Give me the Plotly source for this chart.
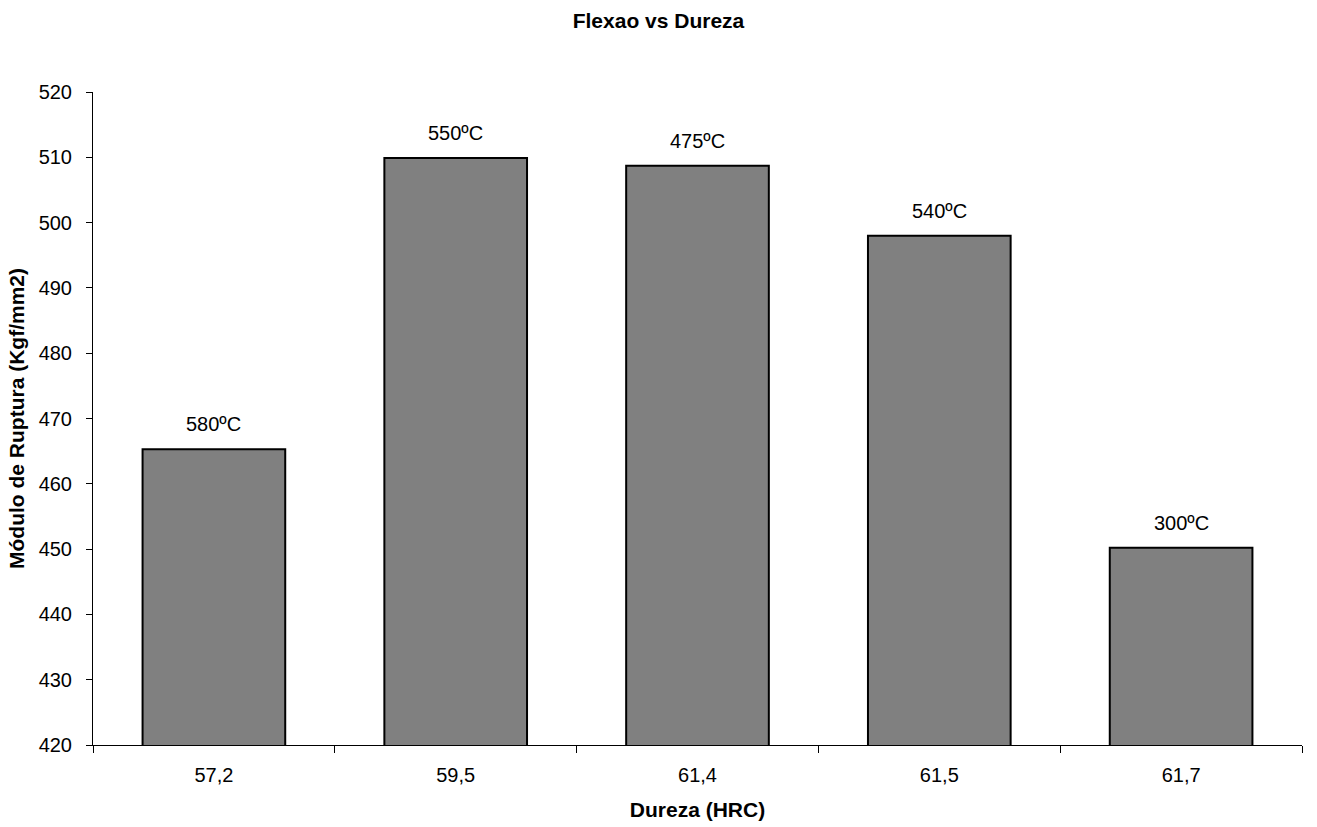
import plotly.graph_objects as go

# Hardness (HRC) categories, flexural strength values and tempering temperatures
dureza = ["57,2", "59,5", "61,4", "61,5", "61,7"]
modulo_ruptura = [465.3, 509.9, 508.7, 498.0, 450.2]
temperaturas = ["580ºC", "550ºC", "475ºC", "540ºC", "300ºC"]

y_ticks = [420, 430, 440, 450, 460, 470, 480, 490, 500, 510, 520]

font_family = "Liberation Sans, Arial, sans-serif"

fig = go.Figure()
fig.add_trace(go.Bar(
    x=dureza,
    y=modulo_ruptura,
    marker=dict(color="#808080", line=dict(color="black", width=2)),
    showlegend=False,
))

for cat, val, lab in zip(dureza, modulo_ruptura, temperaturas):
    fig.add_annotation(
        x=cat, y=val, text=lab, showarrow=False,
        yanchor="bottom", yshift=12,
        font=dict(family=font_family, size=20, color="black"),
    )

fig.update_layout(
    width=1317, height=827,
    margin=dict(l=93, r=15, t=92, b=82),
    plot_bgcolor="white", paper_bgcolor="white",
    bargap=0.41,
    title=dict(
        text="<b>Flexao vs Dureza</b>", x=0.5, xanchor="center",
        y=0.975, yanchor="middle",
        font=dict(family=font_family, size=21, color="black"),
    ),
    font=dict(family=font_family, color="black"),
)

fig.update_xaxes(
    type="category", automargin=False,
    showline=True, linecolor="black", linewidth=1,
    ticks="outside", tickson="boundaries", ticklen=7, tickcolor="black",
    tickfont=dict(size=20, family=font_family),
    ticklabelstandoff=12,
    showgrid=False,
    title=dict(text="<b>Dureza (HRC)</b>", font=dict(size=21, family=font_family), standoff=17),
)
fig.update_yaxes(
    range=[420, 520], tickvals=y_ticks, automargin=False,
    showline=True, linecolor="black", linewidth=1,
    ticks="outside", ticklen=6, tickcolor="black",
    tickfont=dict(size=20, family=font_family),
    ticklabelstandoff=10,
    showgrid=False, zeroline=False,
    title=dict(text="<b>Módulo de Ruptura (Kgf/mm2)</b>", font=dict(size=21, family=font_family), standoff=8),
)

fig.write_html("out.html")
